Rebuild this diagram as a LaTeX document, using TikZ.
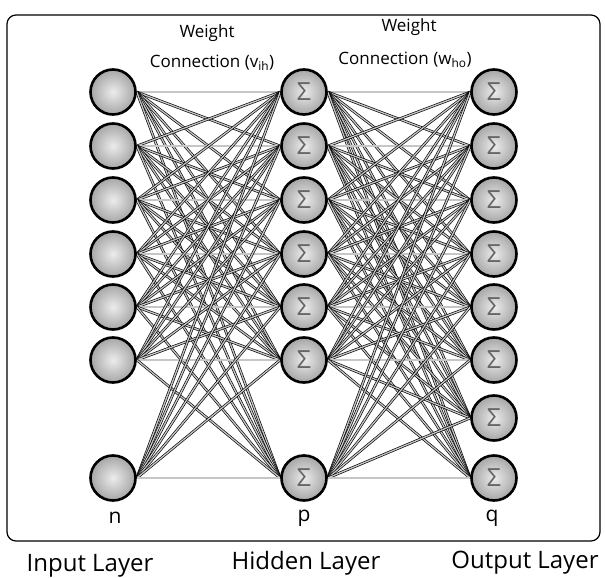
\documentclass[tikz,border=0pt]{standalone}
\usepackage{fontspec}
\setmainfont{Open Sans}
\usetikzlibrary{backgrounds}
\begin{document}
\begin{tikzpicture}[x=1pt,y=-1pt,
  neuron/.style={circle, draw=black, line width=2.6pt, minimum size=45pt, inner sep=0pt,
    inner color=gray!15, outer color=gray!70},
  sigmanode/.style={neuron, font=\fontsize{25}{25}\selectfont, text=black!60},
  conn/.style={draw=black, line width=0.65pt, double=gray!45, double distance=1.3pt},
  toplbl/.style={font=\fontsize{17}{19}\selectfont},
  varlbl/.style={font=\fontsize{21}{23}\selectfont},
  layerlbl/.style={font=\fontsize{24}{26}\selectfont}]
\useasboundingbox (0,0) rectangle (605,578);
\draw[line width=1.2pt, rounded corners=9pt] (7,15) rectangle (600,541);
% input layer
\foreach \k/\yy in {1/92,2/146,3/200,4/254,5/307,6/360,7/478}
  \node[neuron] (i\k) at (113,\yy) {};
% hidden layer
\foreach \k/\yy in {1/92,2/146,3/200,4/254,5/307,6/360,7/478}
  \node[sigmanode] (h\k) at (304,\yy) {Σ};
% output layer
\foreach \k/\yy in {1/92,2/146,3/200,4/254,5/307,6/360,7/418,8/478}
  \node[sigmanode] (o\k) at (494,\yy) {Σ};
\begin{scope}[on background layer]
  \foreach \a in {1,...,7}
    \foreach \b in {1,...,7}
      \draw[conn] (i\a.east) -- (h\b.west);
  \foreach \a in {1,...,7}
    \foreach \b in {1,...,8}
      \draw[conn] (h\a.east) -- (o\b.west);
\end{scope}
% labels
\node[toplbl] (w1) at (207,33) {Weight};
\node[toplbl] (c1) at (212,63) {Connection (v\textsubscript{ih})};
\node[toplbl] (w2) at (409,27) {Weight};
\node[toplbl] (c2) at (405,60) {Connection (w\textsubscript{ho})};
\node[varlbl] (ln) at (115,518) {n};
\node[varlbl] (lp) at (304,518) {p};
\node[varlbl] (lq) at (492,518) {q};
\node[layerlbl] (li) at (90,566) {Input Layer};
\node[layerlbl] (lh) at (306,563) {Hidden Layer};
\node[layerlbl] (lo) at (525,563) {Output Layer};
\end{tikzpicture}
\end{document}
